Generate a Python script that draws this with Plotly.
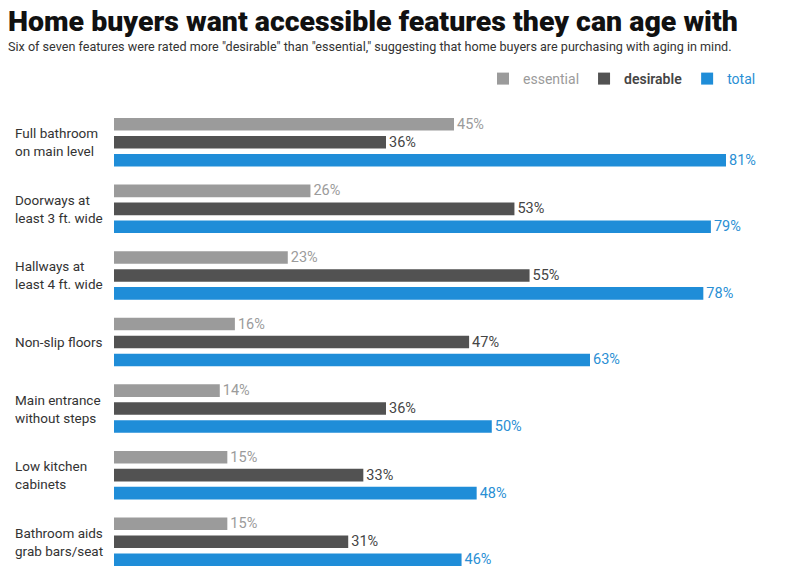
import plotly.graph_objects as go

# Survey data: share of home buyers rating each feature
features = [
    "Full bathroom<br>on main level",
    "Doorways at<br>least 3 ft. wide",
    "Hallways at<br>least 4 ft. wide",
    "Non-slip floors",
    "Main entrance<br>without steps",
    "Low kitchen<br>cabinets",
    "Bathroom aids<br>grab bars/seat",
]
essential = [45, 26, 23, 16, 14, 15, 15]
desirable = [36, 53, 55, 47, 36, 33, 31]
total = [81, 79, 78, 63, 50, 48, 46]

series = [
    ("essential", essential, "#9b9b9b", "#9b9b9b", 400),
    ("desirable", desirable, "#525252", "#454545", 600),
    ("total", total, "#1f8dd8", "#2a8fd4", 400),
]

# page body adds an 8px offset, so the figure is laid out 8px up/left
W, H = 792, 567
L, T = 106, 101
PW, PH = 680, 466

fig = go.Figure()
for name, vals, col, txtcol, w in series:
    fig.add_trace(go.Bar(
        y=features,
        x=vals,
        orientation="h",
        name=f'<span style="color:{txtcol};font-weight:{w}">{name}</span>',
        marker=dict(color=col, line_width=0),
        text=[f"{v}%" for v in vals],
        textposition="outside",
        constraintext="none",
        textfont=dict(color=txtcol, size=14.5, family="Roboto"),
        cliponaxis=False,
        hoverinfo="skip",
    ))

# left-aligned category labels
for f in features:
    fig.add_annotation(
        x=(5 - L) / PW, y=f, xref="paper", yref="y",
        text=f, showarrow=False, xanchor="left", yanchor="middle",
        align="left", font=dict(size=13.5, color="#333333", family="Roboto"),
    )

fig.add_annotation(
    x=(-2 - L) / PW, y=1 + (T - 38) / PH, xref="paper", yref="paper",
    text='Six of seven features were rated more "desirable" than "essential," suggesting that home buyers are purchasing with aging in mind.',
    showarrow=False, xanchor="left", yanchor="middle",
    font=dict(size=12.6, color="#333333", family="Roboto"),
)

fig.update_layout(
    width=W, height=H,
    margin=dict(l=L, r=W - L - PW, t=T, b=H - T - PH),
    paper_bgcolor="white", plot_bgcolor="white",
    title=dict(
        text="Home buyers want accessible features they can age with",
        x=0.0, xanchor="left", xref="container",
        y=1 - 13 / H, yanchor="middle", yref="container",
        font=dict(size=28.5, color="#111111", family="Roboto", weight=900),
    ),
    barmode="group",
    bargap=0.19,
    bargroupgap=0.3,
    showlegend=True,
    legend=dict(
        orientation="h", x=(753 - L) / PW, xanchor="right",
        y=1 + (T - 71) / PH, yanchor="middle",
        font=dict(size=14, family="Roboto"), traceorder="normal",
        itemclick=False, itemdoubleclick=False,
    ),
    xaxis=dict(range=[0, 90], visible=False, automargin=False),
    yaxis=dict(autorange="reversed", showticklabels=False, showgrid=False,
               zeroline=False, showline=False, ticks="", automargin=False),
)

fig.write_html("out.html")
